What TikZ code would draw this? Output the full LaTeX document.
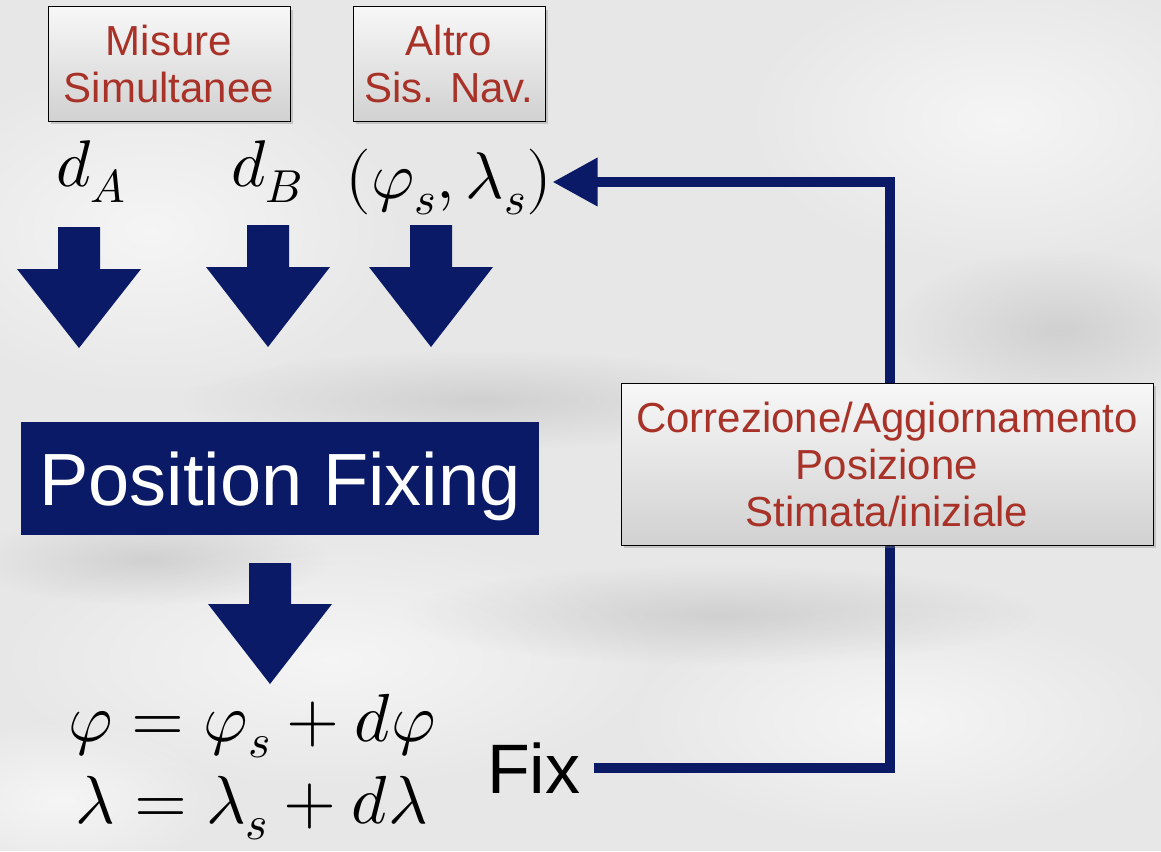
\documentclass[tikz,border=0pt]{standalone}
\usepackage{fontspec}
\usepackage{unicode-math}
\setmainfont{Liberation Sans}
\setmathfont{Latin Modern Math}
\usetikzlibrary{arrows.meta,shadows,fadings}
\definecolor{navy}{RGB}{10,26,102}
\definecolor{txtred}{RGB}{168,50,40}
\definecolor{bgc}{RGB}{231,231,231}
\tikzfading[name=softblob, inner color=transparent!0, outer color=transparent!100]
\newcommand\blockarrow[4]{%
  \fill[navy] ({#1-21},#2) -- ({#1+21},#2) -- ({#1+21},#3) -- ({#1+62},#3)
    -- (#1,#4) -- ({#1-62},#3) -- ({#1-21},#3) -- cycle;}
\begin{document}
\begin{tikzpicture}[x=1pt,y=-1pt,
  graybox/.style={draw=black, line width=1pt, top color=gray!6, bottom color=gray!36,
    text=txtred, align=center, font=\fontsize{42}{47}\selectfont, inner sep=0pt,
    drop shadow={opacity=0.35,shadow xshift=3pt,shadow yshift=-3pt}},
  mathlbl/.style={font=\fontsize{66}{72}\selectfont, inner sep=0pt},
  eqlbl/.style={font=\fontsize{68}{74}\selectfont, inner sep=0pt},
  fb/.style={draw=navy, line width=10pt, line join=miter},
  fbshadow/.style={draw=black, opacity=0.18, line width=10pt, line join=miter},
  lightblob/.style={fill=white, opacity=0.6, path fading=softblob},
  darkblob/.style={fill=gray, opacity=0.22, path fading=softblob}]
\useasboundingbox (0,0) rectangle (1161,851);
% background
\fill[bgc] (0,0) rectangle (1161,851);
\fill[lightblob] (150,230) ellipse (260 and 170);
\fill[lightblob] (1000,120) ellipse (260 and 150);
\fill[lightblob] (330,660) ellipse (340 and 130);
\fill[lightblob] (900,720) ellipse (280 and 120);
\fill[lightblob] (60,800) ellipse (160 and 80);
\fill[darkblob] (480,400) ellipse (300 and 50);
\fill[darkblob] (720,615) ellipse (320 and 50);
\fill[darkblob] (1060,330) ellipse (170 and 80);
\fill[darkblob] (150,560) ellipse (180 and 45);
% top boxes
\node[graybox, minimum width=242, minimum height=114] (b1) at (169,64) {Misure\\Simultanee};
\node[graybox, minimum width=192, minimum height=114] (b2) at (449,64) {Altro\\Sis. Nav.};
% labels
\node[mathlbl, anchor=base] (da) at (91,186) {$d_A$};
\node[mathlbl, anchor=base] (db) at (267,186) {$d_B$};
\node[mathlbl, anchor=base] (phis) at (449,198) {$(\varphi_s,\lambda_s)$};
% block arrows
\blockarrow{79}{227}{269}{348}
\blockarrow{268}{225}{267}{347}
\blockarrow{431}{225}{267}{347}
\blockarrow{270}{563}{604}{684}
% position fixing
\node[fill=navy, text=white, minimum width=518, minimum height=113, inner sep=0pt,
  text height=60pt, text depth=6pt, font=\fontsize{74}{80}\selectfont] (pf) at (280,478) {Position Fixing};
% equations
\node[eqlbl, anchor=base] (eq1) at (252,741) {$\varphi=\varphi_s+d\varphi$};
\node[eqlbl, anchor=base] (eq2) at (252,823) {$\lambda=\lambda_s+d\lambda$};
\node[font=\fontsize{70}{70}\selectfont, anchor=base west, inner xsep=13pt, inner ysep=0pt] (fix) at (474,793) {Fix};
% feedback connector
\coordinate (c1) at (890,768);
\coordinate (c2) at (890,182);
\draw[fbshadow, shift={(3,3)}] (fix.east |- c1) -- (c1) -- (c2) -- ([xshift=44pt]phis.east |- c2);
\draw[fb, -{Triangle[length=45pt,width=46pt]}] (fix.east |- c1) -- (c1) -- (c2) -- (phis.east |- c2);
% right box
\node[graybox, minimum width=532, minimum height=162] (rb) at (887,464)
  {Correzione/Aggiornamento\\Posizione\\Stimata/iniziale};
\end{tikzpicture}
\end{document}
